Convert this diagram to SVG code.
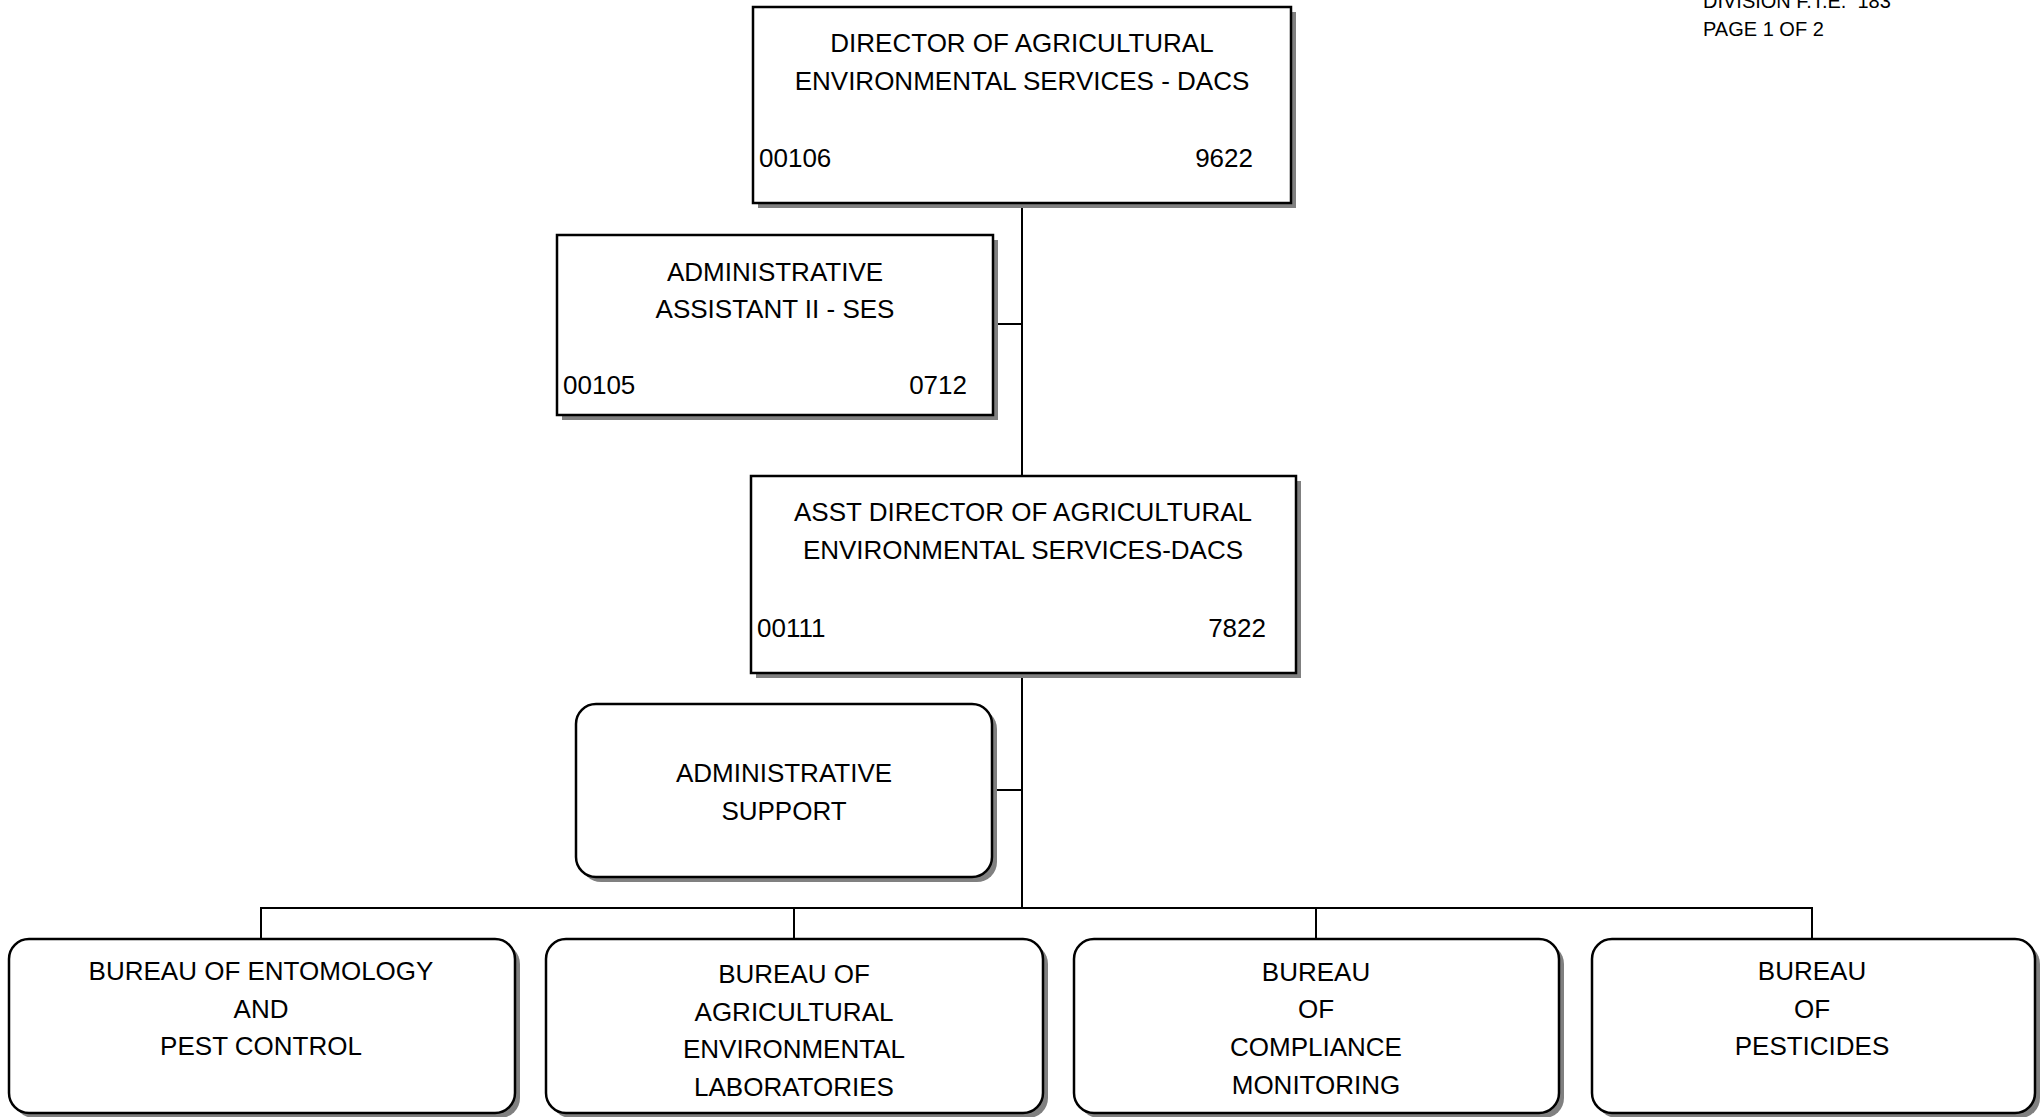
<svg xmlns="http://www.w3.org/2000/svg" width="2044" height="1117" viewBox="0 0 2044 1117">
  <style>
    text { font-family: "Liberation Sans", Arial, sans-serif; fill: #000; }
    .t { font-size: 26px; text-anchor: middle; }
    .c { font-size: 26px; }
    .e { text-anchor: end; }
    .hdr { font-size: 20px; }
    .box { fill: #fff; stroke: #000; stroke-width: 2.5; }
    .shadow { fill: #808080; }
    .link { fill: none; stroke: #000; stroke-width: 2; }
  </style>

  <rect width="2044" height="1117" fill="#fff"/>

  <!-- page header -->
  <g id="header">
    <text class="hdr" x="1703" y="8">DIVISION F.T.E.&#160; 183</text>
    <text class="hdr" x="1703" y="36">PAGE 1 OF 2</text>
  </g>

  <!-- reporting lines -->
  <g id="connectors" class="link">
    <path class="link" d="M1022 203 V908"/>
    <path class="link" d="M993 324 H1022"/>
    <path class="link" d="M992 790 H1022"/>
    <path class="link" d="M261 939 V908 H1812 V939"/>
    <path class="link" d="M794 908 V939"/>
    <path class="link" d="M1316 908 V939"/>
  </g>

  <g id="director">
    <rect class="shadow" x="758" y="12" width="538" height="196"/>
    <rect class="box" x="753" y="7" width="538" height="196"/>
    <text class="t" x="1022" y="52">DIRECTOR OF AGRICULTURAL</text>
    <text class="t" x="1022" y="90">ENVIRONMENTAL SERVICES - DACS</text>
    <text class="c" x="759" y="167">00106</text>
    <text class="c e" x="1253" y="167">9622</text>
  </g>

  <g id="admin-assistant">
    <rect class="shadow" x="562" y="240" width="436" height="180"/>
    <rect class="box" x="557" y="235" width="436" height="180"/>
    <text class="t" x="775" y="281">ADMINISTRATIVE</text>
    <text class="t" x="775" y="318">ASSISTANT II - SES</text>
    <text class="c" x="563" y="394">00105</text>
    <text class="c e" x="967" y="394">0712</text>
  </g>

  <g id="asst-director">
    <rect class="shadow" x="756" y="481" width="545" height="197"/>
    <rect class="box" x="751" y="476" width="545" height="197"/>
    <text class="t" x="1023" y="521">ASST DIRECTOR OF AGRICULTURAL</text>
    <text class="t" x="1023" y="559">ENVIRONMENTAL SERVICES-DACS</text>
    <text class="c" x="757" y="637">00111</text>
    <text class="c e" x="1266" y="637">7822</text>
  </g>

  <g id="admin-support">
    <rect class="shadow" x="581" y="709" width="416" height="173" rx="20"/>
    <rect class="box" x="576" y="704" width="416" height="173" rx="20"/>
    <text class="t" x="784" y="782">ADMINISTRATIVE</text>
    <text class="t" x="784" y="820">SUPPORT</text>
  </g>

  <g id="bureau-entomology">
    <rect class="shadow" x="14" y="944" width="506" height="174" rx="20"/>
    <rect class="box" x="9" y="939" width="506" height="174" rx="20"/>
    <text class="t" x="261" y="980">BUREAU OF ENTOMOLOGY</text>
    <text class="t" x="261" y="1018">AND</text>
    <text class="t" x="261" y="1055">PEST CONTROL</text>
  </g>

  <g id="bureau-labs">
    <rect class="shadow" x="551" y="944" width="497" height="174" rx="20"/>
    <rect class="box" x="546" y="939" width="497" height="174" rx="20"/>
    <text class="t" x="794" y="983">BUREAU OF</text>
    <text class="t" x="794" y="1021">AGRICULTURAL</text>
    <text class="t" x="794" y="1058">ENVIRONMENTAL</text>
    <text class="t" x="794" y="1096">LABORATORIES</text>
  </g>

  <g id="bureau-compliance">
    <rect class="shadow" x="1079" y="944" width="485" height="174" rx="20"/>
    <rect class="box" x="1074" y="939" width="485" height="174" rx="20"/>
    <text class="t" x="1316" y="981">BUREAU</text>
    <text class="t" x="1316" y="1018">OF</text>
    <text class="t" x="1316" y="1056">COMPLIANCE</text>
    <text class="t" x="1316" y="1094">MONITORING</text>
  </g>

  <g id="bureau-pesticides">
    <rect class="shadow" x="1597" y="944" width="443" height="174" rx="20"/>
    <rect class="box" x="1592" y="939" width="443" height="174" rx="20"/>
    <text class="t" x="1812" y="980">BUREAU</text>
    <text class="t" x="1812" y="1018">OF</text>
    <text class="t" x="1812" y="1055">PESTICIDES</text>
  </g>
</svg>
